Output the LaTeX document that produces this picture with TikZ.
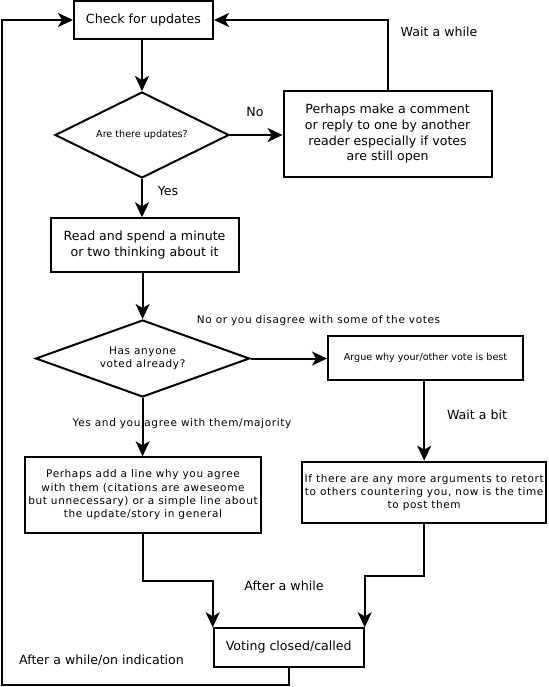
\documentclass[tikz,border=0pt]{standalone}
\usepackage{fontspec}
\setmainfont{DejaVu Sans}
\newfontfamily\spacedfont[LetterSpace=6]{DejaVu Sans}
\usetikzlibrary{shapes.geometric,arrows.meta}
\begin{document}
\begin{tikzpicture}[x=1pt,y=-1pt,
  big/.style={font=\fontsize{12.6}{15.8}\selectfont},
  small/.style={font=\spacedfont\fontsize{10.5}{13.3}\selectfont},
  tiny/.style={font=\fontsize{9.6}{12}\selectfont},
  boxs/.style={draw, line width=2pt, align=center, inner sep=0pt},
  dia/.style={draw, diamond, aspect=2, line width=2pt, align=center, inner sep=0pt},
  lbl/.style={inner sep=0pt, anchor=center},
  arr/.style={line width=2pt, -{Stealth[length=15pt,width=14pt,inset=4pt]}}]
\useasboundingbox (0,0) rectangle (548,687);

% nodes
\node[boxs, big, minimum width=139pt, minimum height=38pt] (check) at (143.5,20) {Check for updates};
\node[dia, tiny, minimum width=174pt, minimum height=86pt] (d1) at (142,135) {Are there updates?};
\node[boxs, big, minimum width=208pt, minimum height=86pt] (pm) at (387.6,133.7)
  {Perhaps make a comment\\or reply to one by another\\reader especially if votes\\are still open};
\node[boxs, font=\fontsize{12.6}{16.7}\selectfont, minimum width=188pt, minimum height=53.4pt] (read) at (144.5,245)
  {Read and spend a minute\\or two thinking about it};
\node[dia, small, minimum width=214pt, minimum height=77pt] (d2) at (142.6,358.5) {Has anyone\\voted already?};
\node[boxs, tiny, minimum width=195pt, minimum height=44pt] (argue) at (425.5,358) {Argue why your/other vote is best};
\node[boxs, small, minimum width=236pt, minimum height=75.5pt] (padd) at (143,495)
  {Perhaps add a line why you agree\\with them (citations are aweseome\\but unnecessary) or a simple line about\\the update/story in general};
\node[boxs, small, minimum width=244.4pt, minimum height=61.6pt] (ifb) at (424.2,492.5)
  {If there are any more arguments to retort\\to others countering you, now is the time\\to post them};
\node[boxs, big, minimum width=150pt, minimum height=38.4pt] (vote) at (288.7,647.5) {Voting closed/called};

% labels
\node[lbl, big] (lno) at (255,112) {No};
\node[lbl, big] (lwait) at (439,32) {Wait a while};
\node[lbl, big] (lyes) at (168,191) {Yes};
\node[lbl, small] (lnodis) at (318.5,321) {No or you disagree with some of the votes};
\node[lbl, big] (lbit) at (477,415) {Wait a bit};
\node[lbl, small] (lyesag) at (182,424) {Yes and you agree with them/majority};
\node[lbl, big] (laft) at (284,586) {After a while};
\node[lbl, big] (laft2) at (101.5,660) {After a while/on indication};

% junction coordinates
\coordinate (j1) at (143,581);
\coordinate (j2) at (424.2,576);
\coordinate (j3) at (288.7,685);
\coordinate (j4) at (2,685);
\coordinate (j5) at (2,20);

% connectors
\draw[arr] (check.south -| d1.north) -- (d1.north);
\draw[arr] (d1.east) -- (pm.west |- d1.east);
\draw[arr] (pm.north) |- (check.east);
\draw[arr] (d1.south) -- (d1.south |- read.north);
\draw[arr] (read.south -| d2.north) -- (d2.north);
\draw[arr] (d2.east) -- (argue.west |- d2.east);
\draw[arr] (argue.south -| ifb.north) -- (ifb.north);
\draw[arr] (d2.south) -- (d2.south |- padd.north);
\draw[arr] (padd.south) -- (j1) -| (vote.north west);
\draw[arr] (ifb.south) -- (j2) -| (vote.north east);
\draw[arr] (vote.south) -- (j3) -- (j4) -- (j5) -- (check.west);
\end{tikzpicture}
\end{document}
